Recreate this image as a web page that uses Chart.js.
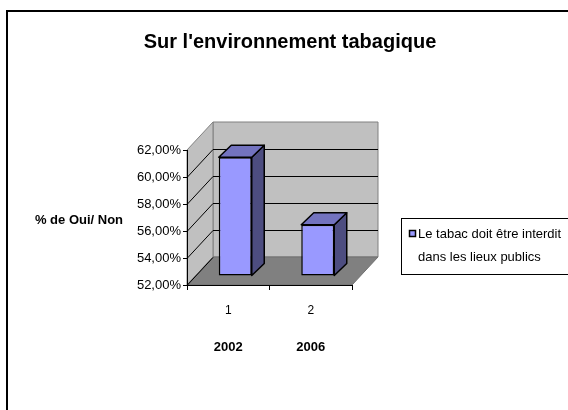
<!DOCTYPE html>
<html>
<head>
<meta charset="utf-8">
<script src="https://cdn.jsdelivr.net/npm/chart.js@4.4.1/dist/chart.umd.min.js"></script>
<style>
html,body{margin:0;padding:0;background:#fff;}
#wrap{position:relative;width:568px;height:410px;}
</style>
</head>
<body>
<div id="wrap"><canvas id="c" width="568" height="410"></canvas></div>
<script>
// ---- data ----
const categories = ["1", "2"];
const years = ["2002", "2006"];
const seriesLabel = ["Le tabac doit être interdit", "dans les lieux publics"];
const seriesValues = [60.8, 55.8];
const yTicks = [52, 54, 56, 58, 60, 62];
const yMin = 52, yMax = 62;
const chartTitle = "Sur l'environnement tabagique";
const yTitle = "% de Oui/ Non";

// ---- styling / geometry ----
const DEPTH = {dx: 26, dy: -28};      // depth of the 3D box
const BAR_SHIFT = {dx: 7, dy: -9};    // bar plane position inside the box
const BAR_DEPTH = {dx: 12.5, dy: -12};
const FONT = "'Liberation Sans', Arial, sans-serif";

function fmtPct(v){ return v.toFixed(2).replace('.', ',') + '%'; }

const box3d = {
  id: 'box3d',
  beforeDraw(chart){
    const ctx = chart.ctx;
    const ys = chart.scales.y, xs = chart.scales.x;
    const L = xs.left, R = xs.right;
    const yb = ys.getPixelForValue(ys.min), yt = ys.getPixelForValue(ys.max);
    const dx = DEPTH.dx, dy = DEPTH.dy;
    ctx.save();
    // outer frame (top & left)
    ctx.strokeStyle = '#000'; ctx.lineWidth = 2;
    ctx.beginPath(); ctx.moveTo(7, 410); ctx.lineTo(7, 11); ctx.lineTo(568, 11); ctx.stroke();
    // back wall
    ctx.fillStyle = '#c0c0c0'; ctx.strokeStyle = '#808080'; ctx.lineWidth = 1;
    ctx.beginPath();
    ctx.moveTo(L+dx, yt+dy); ctx.lineTo(R+dx, yt+dy); ctx.lineTo(R+dx, yb+dy); ctx.lineTo(L+dx, yb+dy); ctx.closePath();
    ctx.fill(); ctx.stroke();
    // left wall
    ctx.beginPath();
    ctx.moveTo(L, yt); ctx.lineTo(L+dx, yt+dy); ctx.lineTo(L+dx, yb+dy); ctx.lineTo(L, yb); ctx.closePath();
    ctx.fill(); ctx.stroke();
    // floor
    ctx.fillStyle = '#808080';
    ctx.beginPath();
    ctx.moveTo(L, yb); ctx.lineTo(R, yb); ctx.lineTo(R+dx, yb+dy); ctx.lineTo(L+dx, yb+dy); ctx.closePath();
    ctx.fill(); ctx.strokeStyle = '#707070'; ctx.stroke();
    // gridlines on back and left walls
    ctx.strokeStyle = '#000'; ctx.lineWidth = 1;
    yTicks.forEach(v => {
      const y = Math.round(ys.getPixelForValue(v)) + 0.5;
      ctx.beginPath();
      if (v !== ys.max) {
        if (v !== ys.min) { ctx.moveTo(L+dx, y+dy); ctx.lineTo(R+dx, y+dy); }
        ctx.moveTo(L, y); ctx.lineTo(L+dx, y+dy);
      }
      ctx.stroke();
    });
    ctx.restore();
  },
  beforeDatasetsDraw(chart){
    chart.ctx.save();
    chart.ctx.translate(BAR_SHIFT.dx, BAR_SHIFT.dy);
  },
  afterDatasetsDraw(chart){
    const ctx = chart.ctx;
    const meta = chart.getDatasetMeta(0);
    const ddx = BAR_DEPTH.dx, ddy = BAR_DEPTH.dy;
    meta.data.forEach(bar => {
      const p = bar.getProps(['x','y','base','width'], true);
      const l = p.x - p.width/2, r = p.x + p.width/2, t = p.y, b = p.base;
      ctx.lineWidth = 1.5; ctx.strokeStyle = '#000'; ctx.lineJoin = 'round';
      // side face
      ctx.fillStyle = '#4d4d80';
      ctx.beginPath();
      ctx.moveTo(r, t); ctx.lineTo(r+ddx, t+ddy); ctx.lineTo(r+ddx, b+ddy); ctx.lineTo(r, b); ctx.closePath();
      ctx.fill(); ctx.stroke();
      // top face
      ctx.fillStyle = '#7373bf';
      ctx.beginPath();
      ctx.moveTo(l, t); ctx.lineTo(l+ddx, t+ddy); ctx.lineTo(r+ddx, t+ddy); ctx.lineTo(r, t); ctx.closePath();
      ctx.fill(); ctx.stroke();
    });
    ctx.restore();
  },
  afterDraw(chart){
    const ctx = chart.ctx;
    ctx.save();
    // y axis title (horizontal)
    ctx.fillStyle = '#000';
    ctx.font = 'bold 13px ' + FONT;
    ctx.textAlign = 'center'; ctx.textBaseline = 'middle';
    ctx.fillText(yTitle, 79, 220);
    // legend
    ctx.fillStyle = '#fff'; ctx.strokeStyle = '#000'; ctx.lineWidth = 1;
    ctx.fillRect(401.5, 218.5, 170, 56);
    ctx.strokeRect(401.5, 218.5, 170, 56);
    ctx.fillStyle = chart.data.datasets[0].backgroundColor;
    ctx.fillRect(409.5, 230.5, 6, 6);
    ctx.lineWidth = 1.5;
    ctx.strokeRect(409.5, 230.5, 6, 6);
    ctx.fillStyle = '#000';
    ctx.font = '13px ' + FONT;
    ctx.textAlign = 'left'; ctx.textBaseline = 'middle';
    const lbl = chart.data.datasets[0].label;
    ctx.fillText(lbl[0], 418, 234);
    ctx.fillText(lbl[1], 418, 257);
    ctx.restore();
  }
};

new Chart(document.getElementById('c'), {
  type: 'bar',
  data: {
    labels: categories,
    datasets: [{
      label: seriesLabel,
      data: seriesValues,
      base: yMin,
      backgroundColor: '#9999ff',
      borderColor: '#000',
      borderWidth: 1.5,
      borderSkipped: false,
      barPercentage: 0.4,
      categoryPercentage: 1,
      clip: false
    }]
  },
  options: {
    responsive: false,
    animation: false,
    devicePixelRatio: 1,
    layout: {padding: {left: 12, right: 0, top: 0, bottom: 0}},
    plugins: {
      legend: {display: false},
      tooltip: {enabled: false},
      title: {
        display: true,
        text: chartTitle,
        color: '#000',
        font: {family: FONT, size: 20, weight: 'bold', lineHeight: 1.2},
        padding: {top: 30, bottom: 96}
      }
    },
    scales: {
      x: {
        type: 'category',
        position: 'bottom',
        offset: true,
        grid: {display: true, drawOnChartArea: false, drawTicks: true, tickLength: 5, color: '#000', offset: true},
        border: {display: true, color: '#000', width: 1},
        ticks: {color: '#000', font: {family: FONT, size: 12}, padding: 13, maxRotation: 0},
        afterFit(s){ s.height = 35; }
      },
      x2: {
        type: 'category',
        position: 'bottom',
        labels: years,
        offset: true,
        grid: {display: false, drawTicks: false},
        border: {display: false},
        ticks: {color: '#000', font: {family: FONT, size: 13, weight: 'bold'}, padding: 20, maxRotation: 0},
        afterFit(s){ s.height = 90; }
      },
      y: {
        min: yMin, max: yMax,
        afterBuildTicks(s){ s.ticks = yTicks.map(v => ({value: v})); },
        grid: {display: true, drawOnChartArea: false, drawTicks: true, tickLength: 4, color: '#000'},
        border: {display: true, color: '#000', width: 1},
        ticks: {color: '#000', font: {family: FONT, size: 13}, padding: 2, callback: v => fmtPct(v)},
        afterFit(s){ s.width = 175; }
      },
      yRight: {
        type: 'linear',
        position: 'right',
        display: true,
        grid: {display: false, drawTicks: false},
        border: {display: false},
        ticks: {display: false},
        afterFit(s){ s.width = 216; }
      }
    }
  },
  plugins: [box3d]
});
</script>
</body>
</html>
